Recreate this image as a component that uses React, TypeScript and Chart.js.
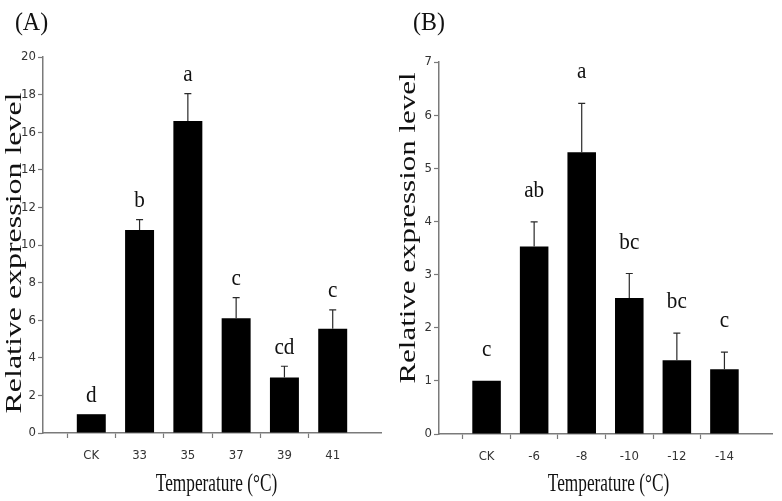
import React, { useEffect, useRef } from "react";
import { Chart, registerables } from "chart.js";

Chart.register(...registerables);

// ---------- data ----------
const tempLabelsA = ["CK", "33", "35", "37", "39", "41"];
const expressionA = [1.0, 10.8, 16.6, 6.1, 2.95, 5.55];
const errorA = [0, 0.55, 1.45, 1.1, 0.6, 1.0];
const lettersA = ["d", "b", "a", "c", "cd", "c"];

const tempLabelsB = ["CK", "-6", "-8", "-10", "-12", "-14"];
const expressionB = [1.0, 3.53, 5.3, 2.56, 1.39, 1.22];
const errorB = [0, 0.46, 0.92, 0.46, 0.51, 0.32];
const lettersB = ["c", "ab", "a", "bc", "bc", "c"];

const yTitle = "Relative expression level";
const xTitle = "Temperature (\u00B0C)";

// ---------- style / layout ----------
const AXIS = "#7a7a7a";
const TICK_TEXT = "#333";
const NARROW = "'Liberation Sans Narrow', 'Arial Narrow', 'DejaVu Sans Condensed', sans-serif";
const SERIF = "'Liberation Serif', 'Times New Roman', serif";

const panelA = {
  name: "(A)",
  labels: tempLabelsA,
  values: expressionA,
  errors: errorA,
  letters: lettersA,
  yMax: 20,
  yStep: 2,
  axisLeft: 43,
  top: 57,
  right: 9,
  xAxisHeight: 68,
  nameX: 31.5,
  yTitleX: 20.5,
  yTitleY: 253,
  yTitleStretch: 1.33,
  xTitleX: 216.5,
  letterGap: 12.5,
};

const panelB = {
  name: "(B)",
  labels: tempLabelsB,
  values: expressionB,
  errors: errorB,
  letters: lettersB,
  yMax: 7,
  yStep: 1,
  axisLeft: 48,
  top: 62,
  right: 4,
  xAxisHeight: 67,
  nameX: 38,
  yTitleX: 24,
  yTitleY: 228,
  yTitleStretch: 1.29,
  xTitleX: 217.5,
  letterGap: 25,
};

function drawText(
  ctx: CanvasRenderingContext2D,
  text: string,
  x: number,
  y: number,
  size: number,
  sx: number,
  rotate = false
) {
  ctx.save();
  ctx.translate(x, y);
  if (rotate) ctx.rotate(-Math.PI / 2);
  ctx.scale(sx, 1);
  ctx.font = `${size}px ${SERIF}`;
  ctx.fillStyle = "#111";
  ctx.textAlign = "center";
  ctx.textBaseline = "alphabetic";
  ctx.fillText(text, 0, 0);
  ctx.restore();
}

function Panel({ cfg }: { cfg: typeof panelA }) {
  const ref = useRef<HTMLCanvasElement | null>(null);

  useEffect(() => {
    if (!ref.current) return;
    const labels = ["", ...cfg.labels, ""];
    const data = [null, ...cfg.values, null];

    const decorations = {
      id: "decorations",
      afterDatasetsDraw(chart: any) {
        const ctx = chart.ctx as CanvasRenderingContext2D;
        const yScale = chart.scales.y;
        const meta = chart.getDatasetMeta(0);
        cfg.values.forEach((v, i) => {
          const el = meta.data[i + 1];
          const px = el.x;
          const barTop = yScale.getPixelForValue(v);
          const errTop = yScale.getPixelForValue(v + cfg.errors[i]);
          if (cfg.errors[i] > 0) {
            ctx.save();
            ctx.strokeStyle = "#2a2a2a";
            ctx.lineWidth = 1.2;
            ctx.beginPath();
            ctx.moveTo(px, barTop);
            ctx.lineTo(px, errTop);
            ctx.moveTo(px - 3.5, errTop);
            ctx.lineTo(px + 3.5, errTop);
            ctx.stroke();
            ctx.restore();
          }
          drawText(ctx, cfg.letters[i], px, errTop - cfg.letterGap, 23, 0.92);
        });
      },
      afterDraw(chart: any) {
        const ctx = chart.ctx as CanvasRenderingContext2D;
        drawText(ctx, cfg.name, cfg.nameX, 30, 26, 0.92);
        drawText(ctx, yTitle, cfg.yTitleX, cfg.yTitleY, 24, cfg.yTitleStretch, true);
        drawText(ctx, xTitle, cfg.xTitleX, 490.5, 26, 0.665);
      },
    };

    const tickColor = (c: any) =>
      c.tick && c.tick.label !== "" && c.tick.label !== undefined ? AXIS : "rgba(0,0,0,0)";

    const chart = new Chart(ref.current, {
      type: "bar",
      data: {
        labels,
        datasets: [
          {
            data: data as any,
            backgroundColor: "#000",
            borderWidth: 0,
            categoryPercentage: 1,
            barPercentage: 0.6,
          },
        ],
      },
      options: {
        animation: false,
        responsive: false,
        maintainAspectRatio: false,
        layout: { padding: { top: cfg.top, right: cfg.right, left: 0, bottom: 0 } },
        plugins: { legend: { display: false }, tooltip: { enabled: false } },
        scales: {
          x: {
            type: "category",
            offset: false,
            grid: {
              drawOnChartArea: false,
              drawTicks: true,
              tickLength: 5,
              tickColor: tickColor,
              tickWidth: 1.2,
            },
            border: { display: true, color: AXIS, width: 1.5 },
            ticks: {
              autoSkip: false,
              maxRotation: 0,
              padding: 10,
              color: TICK_TEXT,
              font: { family: NARROW, size: 13 },
            },
            afterFit: (s: any) => {
              s.height = cfg.xAxisHeight;
            },
          },
          y: {
            min: 0,
            max: cfg.yMax,
            grid: {
              drawOnChartArea: false,
              drawTicks: true,
              tickLength: 5,
              tickColor: AXIS,
              tickWidth: 1.2,
            },
            border: { display: true, color: AXIS, width: 1.5 },
            ticks: {
              stepSize: cfg.yStep,
              padding: 2,
              color: TICK_TEXT,
              font: { family: NARROW, size: 13 },
            },
            afterFit: (s: any) => {
              s.width = cfg.axisLeft;
            },
          },
        },
      },
      plugins: [decorations],
    });
    return () => chart.destroy();
  }, [cfg]);

  return <canvas ref={ref} width={391} height={501} style={{ display: "block" }} />;
}

export default function App() {
  return (
    <div
      style={{
        position: "fixed",
        left: 0,
        top: 0,
        width: 782,
        height: 501,
        display: "flex",
        background: "#fff",
      }}
    >
      <Panel cfg={panelA} />
      <Panel cfg={panelB} />
    </div>
  );
}
